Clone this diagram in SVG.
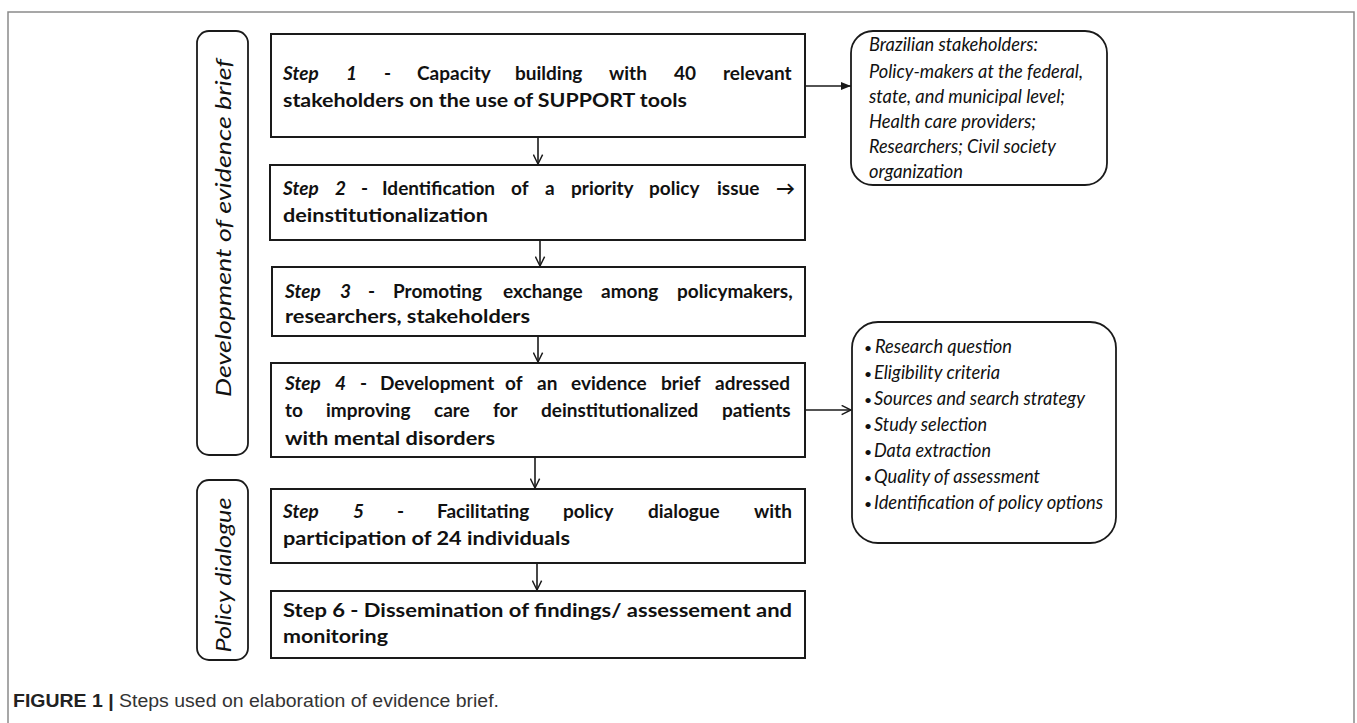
<svg xmlns="http://www.w3.org/2000/svg" width="1357" height="723" viewBox="0 0 1357 723">
<style>
.frame{fill:none;stroke:#8a8a8a;stroke-width:1.5}
.box{fill:#fff;stroke:#1a1a1a;stroke-width:2}
.rbox{fill:#fff;stroke:#1a1a1a;stroke-width:1.8}
.st{font-family:Lato,"Open Sans",sans-serif;font-weight:bold;font-size:19px;fill:#111}
.it{font-style:italic}
.side{font-family:Lato,"Open Sans",sans-serif;font-style:italic;font-size:22px;fill:#111}
.note{font-family:Lato,"Open Sans",sans-serif;font-style:italic;font-size:19px;fill:#111}
.bul{font-family:Lato,"Open Sans",sans-serif;font-size:14px;fill:#111}
.cap{font-family:"Liberation Sans",Arial,sans-serif;font-size:17.5px;fill:#333}
.conn{fill:none;stroke:#1a1a1a;stroke-width:1.6}
</style>
<defs>
<marker id="open" viewBox="0 0 10 10" refX="9.5" refY="5" markerWidth="11" markerHeight="11" markerUnits="userSpaceOnUse" orient="auto">
<path d="M1,0.8 L9.5,5 L1,9.2" fill="none" stroke="#1a1a1a" stroke-width="1.3"/>
</marker>
<marker id="fill" viewBox="0 0 10 10" refX="10" refY="5" markerWidth="10" markerHeight="10" markerUnits="userSpaceOnUse" orient="auto">
<path d="M0,1 L10,5 L0,9 Z" fill="#1a1a1a"/>
</marker>
</defs>
<rect width="1357" height="723" fill="#fff"/>
<path class="frame" d="M8,740 L8,12 L1354,12 L1354,740"/>

<g id="phase-development">
<rect class="rbox" x="197" y="31" width="51" height="424" rx="12"/>
<text class="side" transform="translate(222,228) rotate(-90)" text-anchor="middle" dominant-baseline="central" textLength="338" lengthAdjust="spacingAndGlyphs">Development of evidence brief</text>
</g>
<g id="phase-dialogue">
<rect class="rbox" x="197" y="480" width="51" height="180" rx="12"/>
<text class="side" transform="translate(222,575) rotate(-90)" text-anchor="middle" dominant-baseline="central" textLength="155" lengthAdjust="spacingAndGlyphs">Policy dialogue</text>
</g>

<g id="step1">
<rect class="box" x="271" y="34" width="534" height="103"/>
<text class="st" y="80"><tspan class="it" x="283">Step</tspan><tspan class="it" x="346">1</tspan><tspan x="384">-</tspan><tspan x="417">Capacity</tspan><tspan x="515">building</tspan><tspan x="609">with</tspan><tspan x="674">40</tspan><tspan x="723">relevant</tspan></text>
<text class="st" x="283" y="107" textLength="404" lengthAdjust="spacingAndGlyphs">stakeholders on the use of SUPPORT tools</text>
</g>

<g id="step2">
<rect class="box" x="270" y="165" width="535" height="75"/>
<text class="st" y="195"><tspan class="it" x="283">Step</tspan><tspan class="it" x="335">2</tspan><tspan x="361">-</tspan><tspan x="382">Identification</tspan><tspan x="511">of</tspan><tspan x="545">a</tspan><tspan x="571">priority</tspan><tspan x="649">policy</tspan><tspan x="717">issue</tspan><tspan x="776">→</tspan></text>
<text class="st" x="283" y="222" textLength="205" lengthAdjust="spacingAndGlyphs">deinstitutionalization</text>
</g>

<g id="step3">
<rect class="box" x="272" y="267" width="533" height="69"/>
<text class="st" y="298"><tspan class="it" x="285">Step</tspan><tspan class="it" x="340">3</tspan><tspan x="368">-</tspan><tspan x="393">Promoting</tspan><tspan x="503">exchange</tspan><tspan x="601">among</tspan><tspan x="677">policymakers,</tspan></text>
<text class="st" x="285" y="323" textLength="245" lengthAdjust="spacingAndGlyphs">researchers, stakeholders</text>
</g>

<g id="step4">
<rect class="box" x="271" y="363" width="534" height="94"/>
<text class="st" y="390"><tspan class="it" x="285">Step</tspan><tspan class="it" x="335">4</tspan><tspan x="360">-</tspan><tspan x="380">Development</tspan><tspan x="505">of</tspan><tspan x="537">an</tspan><tspan x="571">evidence</tspan><tspan x="661">brief</tspan><tspan x="715">adressed</tspan></text>
<text class="st" y="417"><tspan x="285">to</tspan><tspan x="326">improving</tspan><tspan x="434">care</tspan><tspan x="493">for</tspan><tspan x="541">deinstitutionalized</tspan><tspan x="722">patients</tspan></text>
<text class="st" x="285" y="445" textLength="210" lengthAdjust="spacingAndGlyphs">with mental disorders</text>
</g>

<g id="step5">
<rect class="box" x="271" y="489" width="534" height="74"/>
<text class="st" y="518"><tspan class="it" x="283">Step</tspan><tspan class="it" x="353">5</tspan><tspan x="397">-</tspan><tspan x="437">Facilitating</tspan><tspan x="563">policy</tspan><tspan x="648">dialogue</tspan><tspan x="754">with</tspan></text>
<text class="st" x="283" y="545" textLength="287" lengthAdjust="spacingAndGlyphs">participation of 24 individuals</text>
</g>

<g id="step6">
<rect class="box" x="271" y="591" width="534" height="67"/>
<text class="st" x="283" y="617" textLength="509" lengthAdjust="spacingAndGlyphs">Step 6 - Dissemination of findings/ assessement and</text>
<text class="st" x="283" y="643" textLength="105" lengthAdjust="spacingAndGlyphs">monitoring</text>
</g>

<g id="stakeholders">
<rect class="rbox" x="851" y="31" width="256" height="154" rx="22"/>
<text class="note" x="869" y="51" textLength="169" lengthAdjust="spacingAndGlyphs">Brazilian stakeholders:</text>
<text class="note" x="869" y="78" textLength="214" lengthAdjust="spacingAndGlyphs">Policy-makers at the federal,</text>
<text class="note" x="869" y="103" textLength="196" lengthAdjust="spacingAndGlyphs">state, and municipal level;</text>
<text class="note" x="869" y="128" textLength="167" lengthAdjust="spacingAndGlyphs">Health care providers;</text>
<text class="note" x="869" y="153" textLength="187" lengthAdjust="spacingAndGlyphs">Researchers; Civil society</text>
<text class="note" x="869" y="178" textLength="94" lengthAdjust="spacingAndGlyphs">organization</text>
</g>

<g id="methods">
<rect class="rbox" x="852" y="322" width="264" height="221" rx="26"/>
<g class="bul">
<text x="864" y="353">•</text><text x="864" y="379">•</text><text x="864" y="405">•</text><text x="864" y="431">•</text><text x="864" y="457">•</text><text x="864" y="483">•</text><text x="864" y="509">•</text>
</g>
<text class="note" x="875" y="353" textLength="137" lengthAdjust="spacingAndGlyphs">Research question</text>
<text class="note" x="874" y="379" textLength="126" lengthAdjust="spacingAndGlyphs">Eligibility criteria</text>
<text class="note" x="874" y="405" textLength="211" lengthAdjust="spacingAndGlyphs">Sources and search strategy</text>
<text class="note" x="874" y="431" textLength="113" lengthAdjust="spacingAndGlyphs">Study selection</text>
<text class="note" x="874" y="457" textLength="117" lengthAdjust="spacingAndGlyphs">Data extraction</text>
<text class="note" x="874" y="483" textLength="166" lengthAdjust="spacingAndGlyphs">Quality of assessment</text>
<text class="note" x="874" y="509" textLength="229" lengthAdjust="spacingAndGlyphs">Identification of policy options</text>
</g>

<g id="connectors">
<line class="conn" x1="538" y1="137" x2="538" y2="164" marker-end="url(#open)"/>
<line class="conn" x1="540" y1="240" x2="540" y2="266" marker-end="url(#open)"/>
<line class="conn" x1="538" y1="336" x2="538" y2="362" marker-end="url(#open)"/>
<line class="conn" x1="535" y1="457" x2="535" y2="488" marker-end="url(#open)"/>
<line class="conn" x1="537" y1="563" x2="537" y2="590" marker-end="url(#open)"/>
<line class="conn" x1="805" y1="86" x2="851" y2="86" marker-end="url(#fill)"/>
<line class="conn" x1="805" y1="410" x2="851" y2="410" marker-end="url(#open)"/>
</g>

<g id="caption">
<text class="cap" x="13" y="707" textLength="486" lengthAdjust="spacingAndGlyphs"><tspan font-weight="bold" fill="#222">FIGURE 1 |</tspan> Steps used on elaboration of evidence brief.</text>
</g>
</svg>
